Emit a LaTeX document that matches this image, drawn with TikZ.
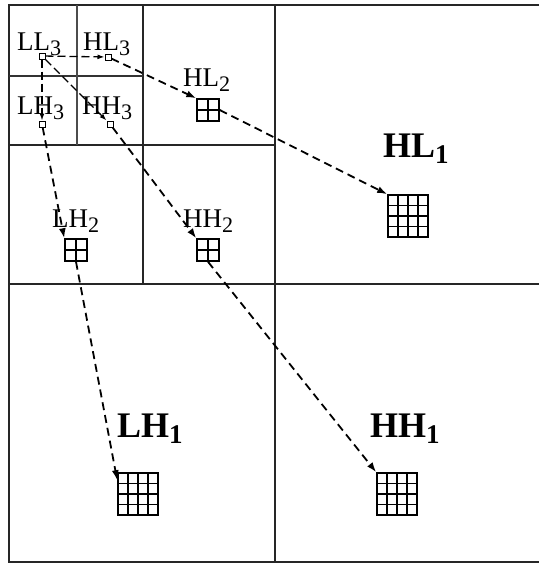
\documentclass[tikz,border=0pt]{standalone}
\usepackage{graphicx}
\usepackage{fontspec}
\setmainfont{Liberation Serif}
\usetikzlibrary{calc,arrows.meta}
\newcommand\sbs[1]{\raisebox{-5pt}{\scalebox{0.82}{#1}}}
\newcommand\sbb[1]{\raisebox{-6pt}{\scalebox{0.75}{#1}}}
\begin{document}
\begin{tikzpicture}[x=1pt,y=-1pt,
  frame/.style={line width=2.2pt, black!85},
  thin3/.style={line width=1.2pt, black!70},
  lab/.style={inner sep=0pt, anchor=base west, font=\fontsize{27}{31}\selectfont},
  labb/.style={inner sep=0pt, anchor=base west, font=\fontsize{36}{40}\selectfont\bfseries},
  sq/.style={draw, fill=white, line width=1.0pt, minimum size=6pt, inner sep=0pt},
  gtwo/.style={draw, fill=white, line width=1.5pt, minimum width=22pt, minimum height=22pt, inner sep=0pt,
    path picture={
      \draw[line width=1.5pt] (path picture bounding box.north) -- (path picture bounding box.south);
      \draw[line width=1.5pt] (path picture bounding box.west) -- (path picture bounding box.east);}},
  gfour/.style={draw, fill=white, line width=1.6pt, minimum width=40pt, minimum height=42pt, inner sep=0pt,
    path picture={
      \foreach \t in {0.25,0.5,0.75}{
        \draw[line width=1.3pt] ($(path picture bounding box.north west)!\t!(path picture bounding box.north east)$) -- ($(path picture bounding box.south west)!\t!(path picture bounding box.south east)$);
        \draw[line width=1.3pt] ($(path picture bounding box.north west)!\t!(path picture bounding box.south west)$) -- ($(path picture bounding box.north east)!\t!(path picture bounding box.south east)$);}}},
  link/.style={line width=1.8pt, dash pattern=on 8pt off 5pt, -{Latex[length=10pt,width=7pt]}},
  slink/.style={line width=1.3pt, dash pattern=on 8pt off 4pt, -{Latex[length=7pt,width=5pt]}}
]
\useasboundingbox (0,0) rectangle (539,565);
% frame and subband lines
\draw[frame] (539,5) -- (9,5) -- (9,562) -- (539,562);
\draw[frame] (275,5) -- (275,562);
\draw[frame] (9,284) -- (539,284);
\draw[frame] (143,5) -- (143,284);
\draw[frame] (9,145) -- (275,145);
\draw[line width=1.8pt, black!80] (9,76) -- (143,76);
\draw[thin3] (77,5) -- (77,145);

% labels
\node[lab] (ll3) at (17,50) {LL\sbs{3}};
\node[lab] (hl3) at (83,50) {HL\sbs{3}};
\node[lab] (lh3) at (17,114) {LH\sbs{3}};
\node[lab] (hh3) at (82,114) {HH\sbs{3}};
\node[lab] (hl2) at (183,86) {HL\sbs{2}};
\node[lab] (lh2) at (52,227) {LH\sbs{2}};
\node[lab] (hh2) at (183,227) {HH\sbs{2}};
\node[labb] (hl1) at (383,157) {HL\sbb{1}};
\node[labb] (lh1) at (117,437) {LH\sbb{1}};
\node[labb] (hh1) at (370,437) {HH\sbb{1}};

% coefficient blocks
\node[sq] (ll3s) at (42,56) {};
\node[sq] (hl3s) at (108,57) {};
\node[sq] (lh3s) at (42,124) {};
\node[sq] (hh3s) at (110,124) {};
\node[gtwo] (hl2g) at (208,110) {};
\node[gtwo] (lh2g) at (76,250) {};
\node[gtwo] (hh2g) at (208,250) {};
\node[gfour] (hl1g) at (408,216) {};
\node[gfour] (lh1g) at (138,494) {};
\node[gfour] (hh1g) at (397,494) {};

% parent-child links
\draw[slink] (ll3s) -- (hl3s);
\draw[slink] (ll3s) -- (lh3s);
\draw[slink] (ll3s) -- (hh3s);
\draw[link] (hl3s) -- (hl2g.north west);
\draw[link] (hl2g.east) -- (hl1g.north west);
\draw[link] (lh3s) -- (lh2g.north west);
\draw[link] (lh2g.south) -- ([yshift=-8pt]lh1g.north west);
\draw[link] (hh3s) -- (hh2g.north west);
\draw[link] (hh2g.south) -- (hh1g.north west);
\end{tikzpicture}
\end{document}
